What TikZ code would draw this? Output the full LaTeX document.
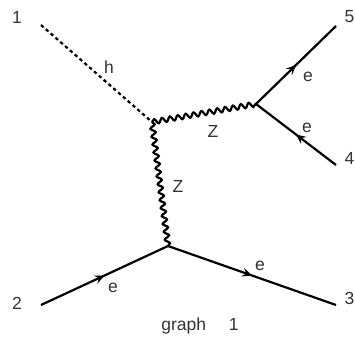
\documentclass[tikz,border=0pt]{standalone}
\usepackage{fontspec}
\setmainfont{Liberation Sans}
\usetikzlibrary{decorations.pathmorphing,decorations.markings,arrows.meta}
\tikzset{
  lab/.style={inner sep=0pt,font=\fontsize{17.5}{17.5}\selectfont,text=black!80},
  prop/.style={line width=2.2pt,black},
  fermion/.style={prop,postaction={decorate,decoration={markings,mark=at position 0.5 with {\arrow[line width=1.1pt]{Stealth[length=10pt,width=9pt,inset=4pt]}}}}},
  higgs/.style={prop,dash pattern=on 3.4pt off 3pt},
  boson/.style={prop,decorate,decoration={snake,amplitude=2.4pt,segment length=8pt}}
}
\begin{document}
\begin{tikzpicture}[x=1pt,y=-1pt]
\useasboundingbox (0,0) rectangle (355,340);
\coordinate (p1) at (41,25);
\coordinate (p2) at (41,305);
\coordinate (p3) at (336,305);
\coordinate (p4) at (336,165);
\coordinate (p5) at (336,26);
\coordinate (va) at (152,122);
\coordinate (vb) at (256,104);
\coordinate (vc) at (168,246);
\draw[higgs] (p1) -- (va);
\draw[boson] (va) -- (vb);
\draw[boson] (va) -- (vc);
\draw[fermion] (p2) -- (vc);
\draw[fermion] (vc) -- (p3);
\draw[fermion] (vb) -- (p5);
\draw[fermion] (p4) -- (vb);
\node[lab] (n1) at (17,17) {1};
\node[lab] (n2) at (17,303) {2};
\node[lab] (n3) at (349.5,298) {3};
\node[lab] (n4) at (349.5,158) {4};
\node[lab] (n5) at (349.5,17) {5};
\node[lab] (lh) at (109,67) {h};
\node[lab] (lz1) at (213,131) {Z};
\node[lab] (lz2) at (178,186) {Z};
\node[lab] (le1) at (308,77) {e};
\node[lab] (le2) at (307,128) {e};
\node[lab] (le3) at (113,288) {e};
\node[lab] (le4) at (260,266) {e};
\node[lab] (title) at (200,326) {graph\hspace{1.3em}1};
\end{tikzpicture}
\end{document}
